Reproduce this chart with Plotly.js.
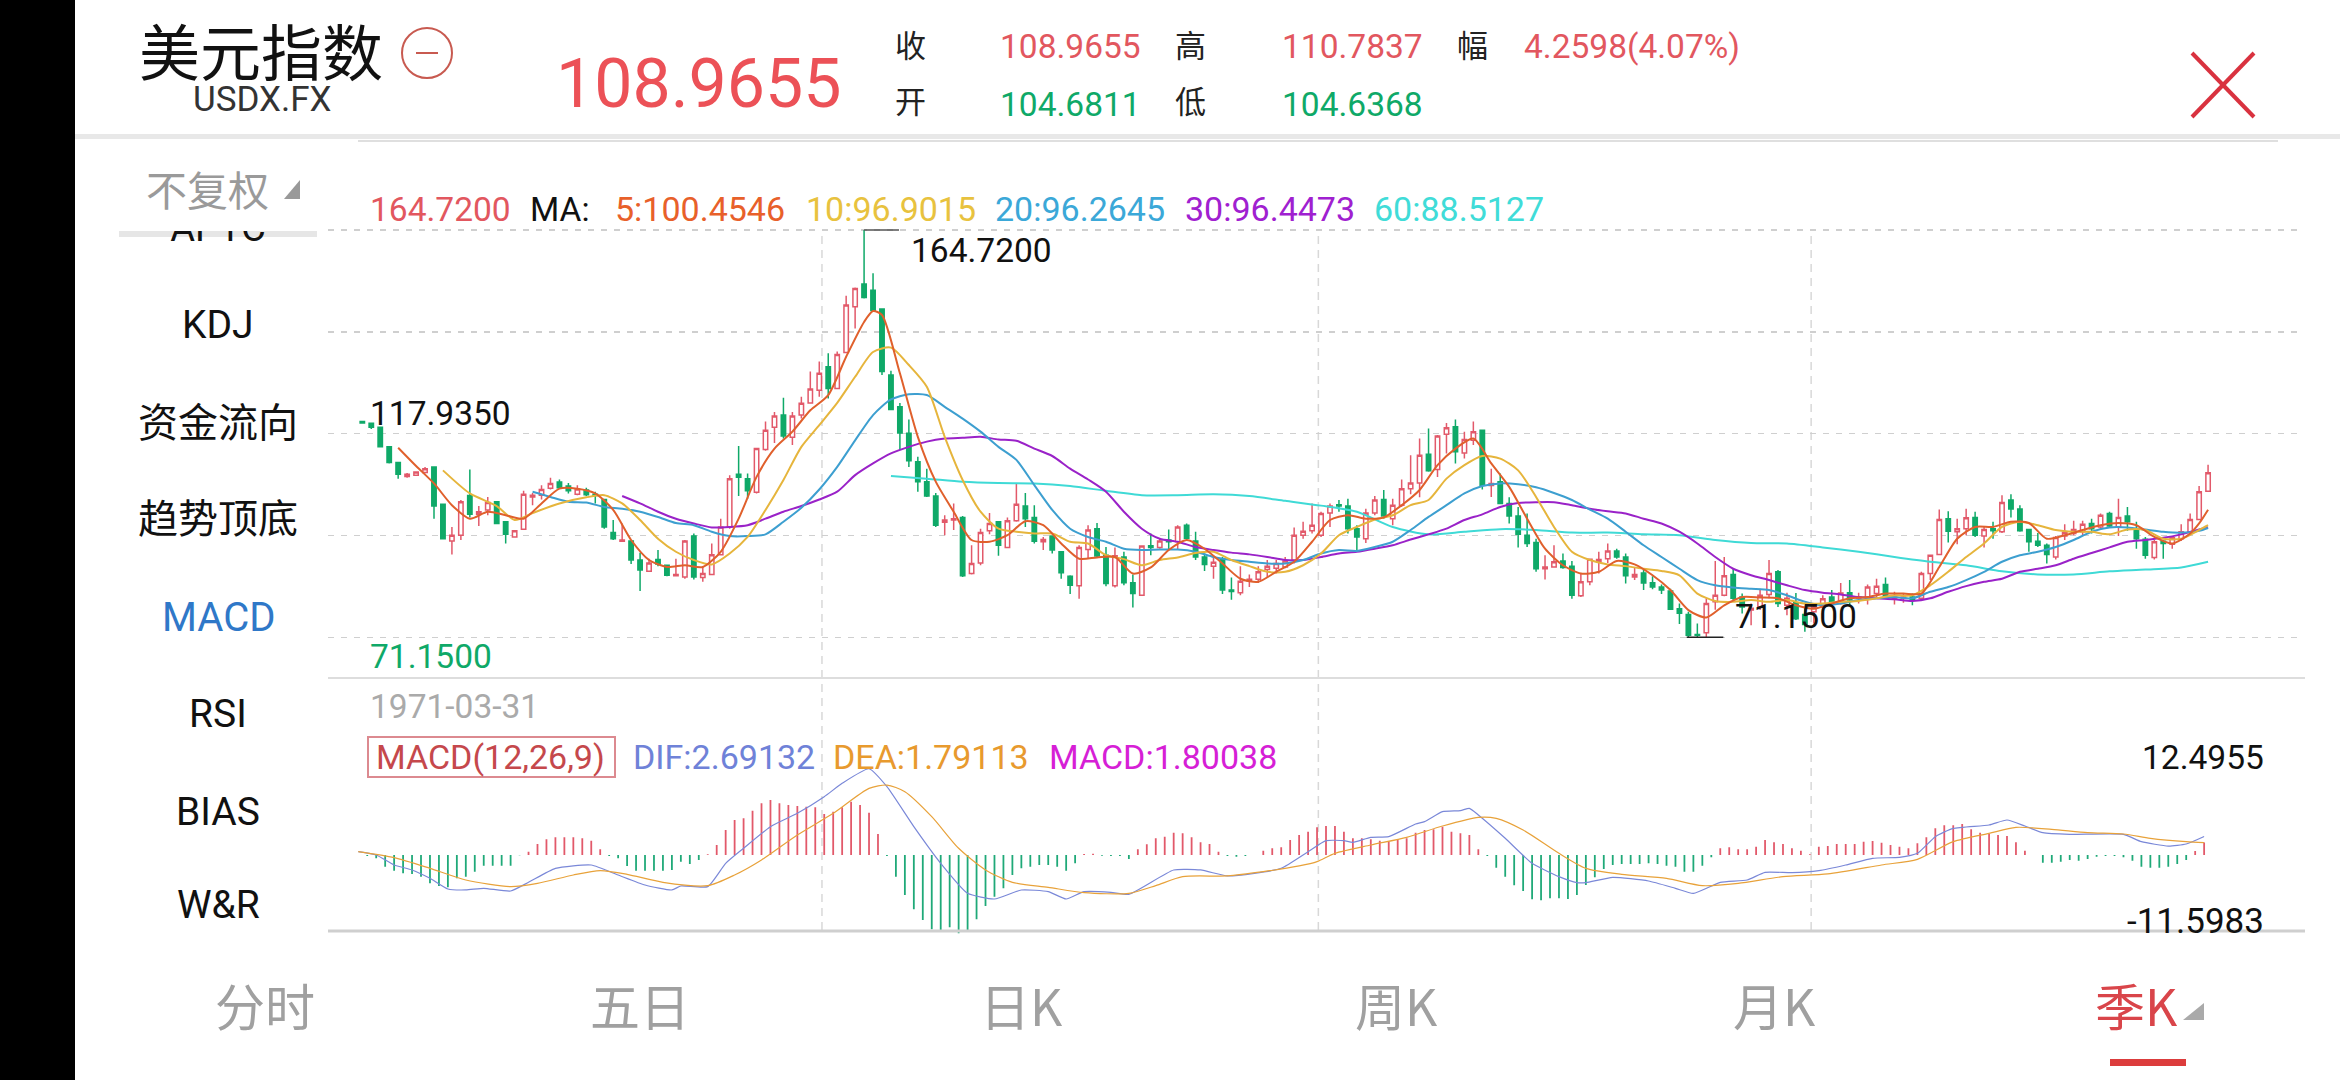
<!DOCTYPE html>
<html><head><meta charset="utf-8">
<script src="https://cdn.plot.ly/plotly-3.0.1.min.js"></script>
<style>html,body{margin:0;padding:0;background:#fff;overflow:hidden}#c{width:2340px;height:1080px}</style>
</head><body><div id="c"></div>
<script>
const opens=[120.7,120.3,119.4,114.9,111.3,108.1,108.4,109.0,110.3,101.7,
93.3,94.6,103.7,99.4,100.4,102.3,97.7,94.2,96.0,103.4,
103.8,105.4,106.8,105.9,104.0,105.0,104.0,102.8,95.2,93.2,
93.3,88.9,86.3,89.0,87.7,85.3,85.0,94.4,84.9,85.6,
90.1,96.5,108.6,107.6,104.5,114.3,119.4,122.2,117.1,122.2,
125.0,127.9,133.3,128.3,136.6,147.1,152.3,150.9,146.6,131.4,
124.1,118.0,111.5,106.9,103.6,97.6,98.1,98.7,85.8,88.2,
95.6,97.7,91.8,97.9,101.3,98.7,93.1,94.4,90.8,85.2,
83.0,91.3,96.1,90.0,83.0,89.6,83.7,80.8,92.2,91.8,
93.5,93.1,96.9,93.3,89.6,87.5,89.2,82.0,81.4,84.1,
84.5,86.7,87.0,87.3,88.9,94.6,95.6,94.6,99.7,101.6,
101.3,96.1,93.8,99.7,102.8,98.4,101.5,105.3,106.6,113.2,
109.7,117.8,119.5,113.5,116.4,118.7,106.0,106.9,101.9,99.0,
94.6,92.9,86.9,87.3,88.7,87.5,80.7,83.9,88.6,89.2,
91.0,89.6,85.0,85.9,83.7,82.7,81.8,77.7,76.4,71.8,
72.2,79.3,80.8,85.6,80.4,77.4,78.1,81.0,86.2,78.5,
79.1,76.4,77.0,78.1,80.4,78.9,81.4,80.1,80.1,81.2,
83.3,80.1,80.1,80.4,80.1,85.8,90.2,98.4,95.4,96.1,
98.7,94.4,96.1,95.4,102.7,100.6,95.9,93.2,92.3,89.6,
94.4,95.0,95.4,97.3,96.5,99.6,96.5,99.0,96.1,93.7,
89.5,93.2,92.5,93.8,95.4,98.2,104.6811];
const highs=[120.7,120.4,119.4,114.9,111.3,108.9,109.1,110.3,110.3,101.7,
96.5,102.7,109.7,101.3,103.4,102.3,97.7,95.6,104.8,104.3,
106.1,107.8,107.4,106.6,106.1,105.5,104.6,103.0,98.1,97.3,
93.5,90.6,89.2,91.2,87.9,89.2,93.5,95.0,87.3,92.7,
98.4,108.4,115.1,108.8,114.7,120.7,122.9,126.2,122.9,126.4,
132.2,134.5,136.4,136.8,149.6,151.5,164.72,154.8,146.7,132.4,
125.0,121.2,112.6,109.9,104.3,99.2,101.9,99.0,92.3,96.1,
99.7,97.8,98.7,106.5,104.3,101.5,94.2,94.6,90.9,85.4,
92.3,96.9,97.4,91.9,91.8,90.8,85.6,92.3,95.0,93.8,
95.9,96.9,97.3,95.4,90.4,90.0,89.6,84.9,87.5,85.6,
87.5,88.9,88.9,89.6,96.4,97.7,101.9,100.0,101.9,102.7,
103.0,96.9,100.7,103.6,105.0,103.0,107.4,113.0,116.8,119.1,
117.6,120.4,121.2,118.4,120.7,118.9,109.9,108.8,103.3,101.1,
99.6,93.8,90.0,92.3,90.4,88.7,85.8,89.2,90.8,92.7,
91.5,90.4,87.3,86.9,85.2,83.3,82.3,78.9,77.0,74.3,
80.1,88.7,89.6,86.9,81.2,78.9,82.3,88.9,86.6,81.4,
81.3,78.1,78.5,80.8,82.0,83.6,84.3,81.4,83.3,84.6,
84.9,81.6,81.2,81.2,86.2,90.2,100.5,100.1,98.4,100.7,
100.0,96.5,97.7,103.8,104.0,101.5,96.1,95.1,92.7,94.4,
97.1,97.9,97.9,98.4,99.6,100.0,103.0,101.1,97.7,94.2,
93.5,93.5,94.2,97.1,99.6,105.9,110.7837];
const lows=[120.4,119.0,114.9,111.1,107.6,107.8,108.4,108.8,98.4,93.8,
90.2,93.5,98.7,96.7,99.2,97.3,92.7,94.2,95.8,101.5,
102.8,105.1,105.3,104.2,103.8,103.6,101.9,96.1,93.5,93.1,
88.0,81.8,86.2,87.5,85.2,85.2,84.6,84.4,83.9,85.4,
90.0,96.1,103.6,103.0,104.2,114.0,115.8,116.8,115.3,121.4,
124.9,126.4,126.0,128.2,136.4,142.1,149.0,145.9,131.4,123.3,
114.2,110.3,104.6,103.4,96.5,94.6,95.8,85.0,85.6,87.7,
94.8,89.9,91.6,97.7,96.5,92.7,91.2,90.4,84.6,81.1,
80.0,89.2,89.5,82.9,82.6,83.1,78.0,80.7,90.0,91.5,
91.2,91.3,93.5,88.9,86.4,84.6,81.1,79.8,80.8,82.7,
83.6,85.0,85.8,87.0,88.1,93.8,95.0,94.2,96.5,100.0,
95.0,90.8,92.8,99.2,98.4,96.9,101.1,104.0,103.3,109.2,
108.0,113.4,111.1,112.2,115.3,105.1,103.4,101.7,97.3,91.8,
91.9,86.2,84.4,87.2,86.9,80.0,80.4,83.1,85.8,88.2,
89.2,83.5,84.3,82.0,82.2,81.1,77.6,74.2,71.2,71.2,
71.15,77.5,80.6,79.7,76.6,73.9,77.4,80.1,78.1,76.2,
75.1,72.4,74.3,77.7,78.1,78.7,78.5,78.9,78.7,80.4,
80.0,78.7,79.1,78.5,79.8,84.3,90.0,92.9,92.5,94.6,
94.2,91.8,93.8,95.1,98.7,95.4,90.8,91.9,88.1,89.0,
93.5,94.6,94.6,95.0,96.1,96.5,94.4,95.6,91.5,89.2,
89.0,89.2,91.5,93.3,95.0,98.1,104.6368];
const closes=[120.4,119.4,114.9,111.3,108.6,108.6,109.1,109.9,101.3,93.8,
94.6,102.3,99.4,100.0,102.1,97.3,94.8,95.6,104.0,103.8,
105.1,106.5,105.5,104.8,105.2,103.9,103.7,96.5,93.8,93.5,
88.9,86.6,88.2,88.0,85.4,85.6,93.3,85.0,85.8,90.1,
96.5,107.6,107.9,104.8,114.5,118.7,122.0,117.4,122.0,124.9,
128.2,131.8,128.3,136.1,147.5,151.3,149.2,146.2,132.2,123.5,
118.1,111.7,106.9,103.6,96.9,98.1,98.4,85.3,88.1,95.2,
97.3,92.3,97.9,101.7,98.4,93.2,93.6,91.2,86.0,83.1,
91.8,95.8,89.8,83.5,89.9,83.7,81.2,92.1,91.8,93.3,
93.1,96.5,93.9,89.6,87.9,88.4,82.0,81.7,84.0,84.5,
86.2,87.5,88.1,88.7,94.6,95.5,96.9,99.6,101.3,101.3,
96.1,94.2,99.7,102.7,99.0,101.5,105.3,106.6,113.0,109.4,
117.4,119.3,113.8,116.6,118.4,106.1,106.5,101.9,99.0,94.8,
92.7,86.9,87.3,88.5,87.2,80.8,83.9,89.1,89.0,91.0,
89.6,85.3,85.6,83.6,82.7,82.0,77.6,76.7,71.6,71.6,
78.9,80.8,85.3,80.1,78.1,77.8,80.8,85.8,78.9,80.1,
75.4,74.1,78.1,80.0,78.9,81.3,79.7,80.4,82.7,82.9,
80.4,80.4,80.4,79.7,85.8,90.0,98.2,95.5,96.1,98.6,
94.6,95.9,95.6,102.1,100.6,95.6,93.1,92.3,90.2,94.1,
95.2,95.9,97.1,96.1,99.2,96.7,98.7,97.7,93.8,90.0,
93.1,92.7,94.0,95.4,98.2,104.6,108.9655];

const ma5X=[4,6,8,10,12,14,16,18,20,22,24,26,28,30,32,34,36,38,40,42,44,46,48,50,52,54,56,57,58,60,62,64,66,68,70,72,74,76,78,80,82,84,86,88,90,92,94,96,98,100,102,104,106,108,110,112,114,116,118,120,122,124,126,128,130,132,134,136,138,140,142,144,146,148,150,152,154,156,158,160,162,164,166,168,170,172,174,176,178,180,182,184,186,188,190,192,194,196,198,200,202,204,205,206];
const ma5=[114.7,110.5,106.5,101.5,98.4,100.0,99.2,98.4,101.9,105.3,105.3,104.2,100.4,93.5,88.9,87.3,87.7,87.3,90.8,98.4,108.0,114.5,118.4,123.3,126.8,135.6,143.6,146.1,145.2,131.8,117.2,106.9,100.0,93.5,93.1,94.6,97.8,96.9,92.7,89.2,89.5,89.6,85.8,87.2,91.2,93.5,91.5,88.1,84.6,83.9,86.2,88.5,93.1,98.1,99.2,98.4,98.7,101.5,105.0,110.7,114.5,116.8,111.1,105.7,98.4,91.5,87.7,85.8,86.2,88.7,87.9,85.4,82.0,77.4,75.7,78.5,80.4,80.3,80.1,78.5,77.7,78.9,80.1,80.4,81.2,81.2,81.2,87.3,93.8,96.5,96.5,97.7,97.4,93.8,94.6,95.8,96.9,97.4,96.9,94.2,92.7,95.0,97.3,100.4546];

const ma10X=[9,12,15,17,19,22,25,27,29,31,33,35,37,39,41,43,45,47,49,51,53,55,57,59,61,63,65,67,69,71,73,75,77,79,81,83,85,87,89,91,93,95,97,99,101,103,105,107,109,111,113,115,117,119,121,123,125,127,129,131,133,135,137,139,141,143,145,147,149,151,153,155,157,159,161,163,165,167,169,171,173,175,177,179,181,183,185,187,189,191,193,195,197,199,201,203,205,206];
const ma10=[109.5,104.2,101.3,98.1,99.7,101.9,103.3,103.8,101.9,98.1,93.8,90.8,88.9,87.9,90.4,94.2,100.4,107.3,114.9,119.9,125.0,131.0,136.7,137.7,133.7,128.7,117.2,107.3,100.0,96.1,95.4,95.0,95.0,93.1,92.7,90.0,89.1,87.7,88.9,89.5,90.5,90.8,88.9,87.5,86.2,86.2,87.7,90.4,94.6,96.5,98.2,99.2,101.5,102.7,107.6,110.7,112.8,112.2,109.5,103.4,96.5,90.8,88.9,87.9,87.5,86.9,86.4,85.4,81.2,79.5,79.3,79.7,79.3,79.7,78.9,78.9,79.3,79.5,80.1,80.8,80.8,83.1,86.2,89.6,92.7,96.5,97.7,96.9,95.8,95.4,95.4,94.8,95.9,95.8,93.8,93.8,95.8,96.9015];

const ma20X=[19,21,23,25,27,29,31,33,35,37,39,41,43,45,47,49,51,53,55,57,59,61,63,65,67,69,71,73,75,77,79,81,83,85,87,89,91,93,95,97,99,101,103,105,107,109,111,113,115,117,119,121,123,125,127,129,131,133,135,137,139,141,143,145,147,149,151,153,155,157,159,161,163,165,167,169,171,173,175,177,179,181,183,185,187,189,191,193,195,197,199,201,203,205,206];
const ma20=[104.6,103.4,102.3,102.1,101.1,100.7,100.0,98.8,97.4,96.9,95.4,94.4,94.4,94.8,97.7,100.9,105.1,110.3,116.4,122.2,125.8,127.0,126.8,124.1,121.4,118.4,114.9,111.9,106.1,100.4,96.1,94.2,93.1,91.5,91.2,91.3,91.3,90.8,89.6,88.9,88.5,88.1,88.1,88.9,90.4,91.2,91.0,91.9,93.1,95.8,98.8,101.5,104.2,105.9,106.5,106.3,105.6,104.3,102.7,100.5,98.4,95.4,92.3,89.6,86.9,84.3,83.1,82.6,82.3,82.0,80.8,79.3,78.5,78.9,79.7,80.1,80.4,80.1,81.6,82.7,84.3,86.2,88.5,90.0,90.8,91.9,93.5,95.4,96.4,96.4,95.9,95.4,95.2,95.6,96.2645];

const ma30X=[29,31,33,35,37,39,41,43,45,47,49,51,53,55,57,59,61,63,65,67,69,71,73,75,77,79,81,83,85,87,89,91,93,95,97,99,101,103,105,107,109,111,113,115,117,119,121,123,125,127,129,131,133,135,137,139,141,143,145,147,149,151,153,155,157,159,161,163,165,167,169,171,173,175,177,179,181,183,185,187,189,191,193,195,197,199,201,203,205,206];
const ma30=[103.6,101.9,100.0,98.4,97.3,96.4,96.5,96.9,98.4,100.0,101.3,102.8,104.6,108.4,111.1,113.4,114.9,116.1,116.8,117.0,117.2,116.6,116.3,114.5,112.8,109.9,107.4,104.6,100.0,96.1,93.8,93.1,91.9,91.2,90.6,90.2,89.6,88.9,88.9,89.6,90.4,90.8,91.5,92.3,93.6,94.8,96.1,98.1,99.4,101.1,102.0,102.2,102.2,101.5,100.7,100.1,99.6,98.4,97.3,95.4,92.7,89.6,86.9,85.4,84.3,83.1,82.0,81.4,81.0,80.4,80.1,79.9,79.5,80.1,81.6,82.9,83.9,84.6,86.2,86.9,87.7,89.2,90.5,91.8,93.1,93.5,94.0,94.8,95.9,96.4473];

const ma60X=[59,63,67,71,75,79,83,87,91,95,99,103,107,111,115,119,123,127,131,135,139,143,147,151,155,159,163,167,171,175,179,183,187,191,195,199,203,206];
const ma60=[108.2,107.6,106.9,106.6,106.5,105.9,104.8,103.8,103.8,104.0,103.6,102.5,101.4,100.0,96.5,94.8,95.4,96.0,95.8,95.2,95.2,94.8,94.6,93.5,92.8,92.7,91.8,90.8,89.6,88.5,87.7,86.3,85.6,85.6,86.3,86.7,87.2,88.5127];

const macdHist=[0,-0.14,-0.48,-1.69,-2.27,-2.66,-2.75,-3.14,-4.11,-4.49,
-4.69,-3.38,-3.14,-2.42,-1.55,-1.55,-1.55,-1.55,-0.05,0.48,
1.59,2.27,2.56,2.56,2.56,2.42,2.08,0.82,-0.14,-0.48,
-1.59,-2.27,-2.27,-2.27,-2.27,-2.17,-0.97,-1.30,-0.72,0.10,
1.45,3.62,5.07,5.31,6.43,7.49,7.97,7.49,7.25,7.10,
7.00,6.91,5.94,6.28,6.91,7.73,7.25,6.14,3.04,-0.14,
-3.14,-5.80,-7.87,-9.42,-10.77,-10.97,-10.48,-11.35,-10.97,-9.32,
-7.39,-6.04,-4.83,-2.90,-1.93,-1.69,-1.45,-1.45,-1.69,-2.27,
-1.21,0.14,0.19,-0.10,-0.14,-0.14,-0.58,0.82,1.55,2.42,
2.66,3.24,3.14,2.56,1.84,1.59,0.48,-0.14,-0.24,-0.14,
0,0.63,0.97,1.11,2.17,2.90,3.38,4.01,4.20,4.20,
3.38,2.42,2.42,2.27,2.08,1.93,2.27,2.42,3.24,3.62,
3.72,4.11,3.38,3.14,2.90,0.82,-0.14,-1.84,-3.14,-4.40,
-5.22,-6.43,-6.57,-6.28,-6.28,-6.38,-5.80,-4.35,-3.24,-2.03,
-1.45,-1.30,-1.30,-1.30,-1.21,-1.30,-1.55,-1.69,-2.42,-2.42,
-1.55,-0.34,0.97,1.11,0.82,0.82,1.21,2.17,1.84,1.59,
0.97,0.63,0.10,1.21,1.30,1.59,1.59,1.59,1.93,2.03,
1.79,1.45,1.21,0.97,1.69,2.56,3.86,4.30,4.30,4.49,
3.72,3.24,3.04,2.90,2.75,1.84,0.63,0,-1.11,-1.11,
-0.97,-0.72,-0.82,-0.58,-0.24,-0.14,-0.14,-0.34,-0.82,-1.69,
-1.84,-1.84,-1.69,-1.30,-0.72,0.58,1.80038];

const difX=[0,2,4,6,8,10,12,14,17,19,22,26,29,32,35,36,39,41,43,46,49,52,54,57,59,62,65,68,71,74,77,79,81,84,86,91,94,97,100,103,106,108,110,111,113,115,118,119,121,123,124,125,128,131,134,136,137,140,144,147,149,152,155,157,160,163,166,169,172,174,176,178,182,184,186,188,191,197,199,202,204,206];
const dif=[0.48,0,-1.45,-2.17,-3.38,-4.93,-5.07,-4.83,-5.22,-3.96,-1.93,-1.45,-2.90,-4.35,-5.07,-4.49,-4.59,-1.21,0.97,4.11,6.04,8.45,10.39,12.50,9.90,4.11,-1.21,-5.56,-6.38,-5.07,-5.31,-6.38,-5.31,-5.41,-5.70,-2.17,-2.17,-3.04,-2.66,-1.93,0.48,2.08,2.08,1.84,2.56,2.66,4.49,4.83,6.28,6.43,6.76,5.80,2.42,-1.21,-3.14,-4.01,-4.01,-3.24,-3.77,-4.83,-5.56,-3.96,-3.62,-2.51,-2.56,-2.27,-1.45,-0.48,-0.34,0.24,2.66,3.86,4.35,5.07,4.20,3.24,3.00,3.00,1.93,1.30,1.59,2.69132];
const deaX=[0,4,8,12,17,20,24,27,30,34,39,42,45,49,53,57,59,61,64,67,70,73,77,81,86,89,92,97,101,105,107,109,113,117,121,125,127,130,134,137,141,146,150,154,159,164,170,174,178,182,185,189,193,197,200,204,206];
const dea=[0.48,-0.39,-1.93,-3.62,-4.59,-4.11,-2.90,-2.27,-2.80,-3.96,-4.44,-2.90,-0.72,2.90,6.04,9.66,10.14,9.18,5.56,0.97,-2.17,-3.96,-4.69,-5.46,-5.56,-4.44,-3.14,-3.04,-2.42,-1.59,-0.97,0.24,1.45,2.56,4.20,5.46,5.31,3.62,0.24,-1.93,-2.80,-3.38,-4.44,-4.11,-3.14,-2.75,-1.45,-0.63,1.93,3.14,4.01,3.72,3.24,3.04,2.42,1.93,1.79113];

const priceTicks=[71.15,94.5425,117.935,141.3275,164.72];
const yearMarks=[51.3,106.7,161.7];

const RED='#e2596a', GREEN='#0fa968', CJK='"Noto Sans CJK SC"', NUM='Roboto, "Noto Sans CJK SC"';
const W=2340,H=1080, px=x=>x/W, py=y=>1-y/H;
const idx=closes.map((_,i)=>i);

function note(text,x,y,size,color,anchor,font,extra){
  return Object.assign({text,x:px(x),y:py(y),xref:'paper',yref:'paper',showarrow:false,xanchor:anchor||'left',yanchor:'middle',
    borderpad:0,font:{family:font||NUM,size,color}},extra||{});
}
function rect(x0,y0,x1,y1,fill,layer){return {type:'rect',xref:'paper',yref:'paper',x0:px(x0),x1:px(x1),y0:py(y0),y1:py(y1),fillcolor:fill,line:{width:0},layer:layer||'above'};}
function seg(x0,y0,x1,y1,color,width,dash){return {type:'line',xref:'paper',yref:'paper',x0:px(x0),x1:px(x1),y0:py(y0),y1:py(y1),line:{color,width,dash:dash||'solid'},layer:'above'};}
function tri(path,fill){return {type:'path',xref:'paper',yref:'paper',path,fillcolor:fill,line:{width:0}};}
const P=(x,y)=>px(x)+','+py(y);

const traces=[
 {type:'candlestick',x:idx,open:opens,high:highs,low:lows,close:closes,xaxis:'x',yaxis:'y',whiskerwidth:0,
  increasing:{line:{color:RED,width:1.5},fillcolor:'#ffffff'},
  decreasing:{line:{color:GREEN,width:1.5},fillcolor:GREEN},hoverinfo:'skip'},
 {type:'scatter',mode:'lines',x:ma60X,y:ma60,line:{color:'#3fdad6',width:2,shape:'spline',smoothing:0.7},xaxis:'x',yaxis:'y'},
 {type:'scatter',mode:'lines',x:ma30X,y:ma30,line:{color:'#9a22c8',width:2,shape:'spline',smoothing:0.7},xaxis:'x',yaxis:'y'},
 {type:'scatter',mode:'lines',x:ma20X,y:ma20,line:{color:'#3d9fd0',width:2,shape:'spline',smoothing:0.7},xaxis:'x',yaxis:'y'},
 {type:'scatter',mode:'lines',x:ma10X,y:ma10,line:{color:'#e6b53c',width:2,shape:'spline',smoothing:0.7},xaxis:'x',yaxis:'y'},
 {type:'scatter',mode:'lines',x:ma5X,y:ma5,line:{color:'#e0602c',width:2,shape:'spline',smoothing:0.7},xaxis:'x',yaxis:'y'},
 {type:'bar',x:idx,y:macdHist,width:0.2,marker:{color:macdHist.map(v=>v>=0?'#e2596a':'#1fa978'),line:{width:0}},xaxis:'x2',yaxis:'y2'},
 {type:'scatter',mode:'lines',x:difX,y:dif,line:{color:'#7a88d8',width:1.2,shape:'spline',smoothing:0.5},xaxis:'x2',yaxis:'y2'},
 {type:'scatter',mode:'lines',x:deaX,y:dea,line:{color:'#e8a23a',width:1.2,shape:'spline',smoothing:0.7},xaxis:'x2',yaxis:'y2'},
 {type:'scatter',mode:'text',x:[0],y:[0.51],text:['APTC'],textposition:'top center',cliponaxis:true,textfont:{family:NUM,size:38,color:'#111'},xaxis:'x3',yaxis:'y3'}
];

const hidden={showticklabels:false,ticks:'',zeroline:false,showline:false,showgrid:false,fixedrange:true};
const layout={
 width:W,height:H,margin:{l:0,r:0,t:0,b:0},paper_bgcolor:'#fff',plot_bgcolor:'rgba(0,0,0,0)',showlegend:false,barmode:'overlay',
 xaxis:Object.assign({},hidden,{domain:[px(328),px(2300)],range:[-3.83,216.26],rangeslider:{visible:false},anchor:'y'}),
 yaxis:Object.assign({},hidden,{domain:[py(639.3),py(228)],range:[70.69,165.18],showgrid:true,tickvals:priceTicks,gridcolor:'#cfcfcf',gridwidth:1.5,griddash:'6px,7px',anchor:'x'}),
 xaxis2:Object.assign({},hidden,{domain:[px(328),px(2300)],range:[-3.38,216.7],anchor:'y2'}),
 yaxis2:Object.assign({},hidden,{domain:[py(935),py(768.8)],range:[-11.5983,12.4955],anchor:'x2'}),
 xaxis3:Object.assign({},hidden,{domain:[px(119),px(317)],range:[-1,1],anchor:'y3'}),
 yaxis3:Object.assign({},hidden,{domain:[py(270),py(231)],range:[0,1],anchor:'x3'}),
 shapes:[
  rect(0,0,75,1080,'#000000'),
  rect(75,134,2340,139,'#e8e8e8'),
  seg(358,141,2278,141,'#d4d4d4',1.5),
  rect(119,231,317,237,'#e6e6e6','below'),
  {type:'circle',xref:'paper',yref:'paper',x0:px(402),x1:px(452),y0:py(78),y1:py(28),line:{color:'#c85a50',width:2},fillcolor:'rgba(0,0,0,0)'},
  seg(416,53,438,53,'#c85a50',2),
  seg(2192,53,2254,117,'#d9323f',4),
  seg(2254,53,2192,117,'#d9323f',4),
  tri('M '+P(300,180)+' L '+P(300,199)+' L '+P(284,199)+' Z','#999999'),
  tri('M '+P(2204,1003)+' L '+P(2204,1020)+' L '+P(2183,1020)+' Z','#aaaaaa'),
  seg(328,678,2305,678,'#dddddd',2),
  seg(328,931,2305,931,'#cfcfcf',3),
  rect(2110,1059,2186,1066,'#dc3c3c'),
  {type:'rect',xref:'paper',yref:'paper',x0:px(368),x1:px(615),y0:py(777),y1:py(737),line:{color:'#dc8a90',width:2},fillcolor:'rgba(0,0,0,0)'},
  {type:'line',xref:'x',yref:'y',x0:56,x1:59.9,y0:164.72,y1:164.72,line:{color:'#555555',width:1.5}},
  {type:'line',xref:'x',yref:'y',x0:147.8,x1:151.9,y0:71.15,y1:71.15,line:{color:'#222222',width:1.5}}
 ].concat(yearMarks.map(v=>({type:'line',xref:'x',yref:'paper',x0:v,x1:v,y0:py(930),y1:py(230),line:{color:'#d8d8d8',width:1.5,dash:'8px,6px'},layer:'below'}))),
 annotations:[
  note('美元指数',261,50,61,'#111','center',CJK),
  note('USDX.FX',262,100,35,'#333','center',NUM),
  note('108.9655',555,84,68,'#ec5157','left',NUM),
  note('收',910,43,31,'#222','center',CJK),
  note('开',910,100,31,'#222','center',CJK),
  note('108.9655',999,46,33.5,'#e2575f'),
  note('104.6811',999,104,33.5,GREEN),
  note('高',1190,43,31,'#222','center',CJK),
  note('低',1190,100,31,'#222','center',CJK),
  note('110.7837',1281,46,33.5,'#e2575f'),
  note('104.6368',1281,104,33.5,GREEN),
  note('幅',1472,43,31,'#222','center',CJK),
  note('4.2598(4.07%)',1523,46,33.5,'#e2575f'),
  note('不复权',207,188,41,'#9a9a9a','center',CJK),
  note('164.7200',369,209,33.5,'#e2575f'),
  note('MA:',529,209,33.5,'#111'),
  note('5:100.4546',614,209,34,'#e8602a'),
  note('10:96.9015',805,209,34,'#e8c23e'),
  note('20:96.2645',994,209,34,'#3ba8d8'),
  note('30:96.4473',1184,209,34,'#a020d0'),
  note('60:88.5127',1373,209,34,'#40dcd8'),
  note('KDJ',218,325,39,'#111','center',NUM),
  note('资金流向',218,420,40,'#111','center',CJK),
  note('趋势顶底',218,516,40,'#111','center',CJK),
  note('MACD',218,617,40,'#2f78c8','center',NUM),
  note('RSI',218,714,39,'#111','center',NUM),
  note('BIAS',218,812,39,'#111','center',NUM),
  note('W&R',218,905,39,'#111','center',NUM),
  note('117.9350',369,413,33.5,'#111'),
  note('71.1500',369,656,33.5,GREEN),
  note('164.7200',910,250,33.5,'#111'),
  note('71.1500',1734,616,33.5,'#111'),
  note('1971-03-31',369,706,33.5,'#aaaaaa'),
  note('MACD(12,26,9)',375,757,34,'#c5484c'),
  note('DIF:2.69132',632,757,34,'#6f82d8'),
  note('DEA:1.79113',832,757,34,'#e89a2e'),
  note('MACD:1.80038',1048,757,34,'#d61fd6'),
  note('12.4955',2265,757,33.5,'#111','right'),
  note('-11.5983',2265,921,35,'#111','right'),
  note('分时',265,1004,50,'#a0a0a0','center',CJK),
  note('五日',640,1004,50,'#a0a0a0','center',CJK),
  note('日K',1021,1004,50,'#a0a0a0','center',CJK),
  note('周K',1396,1004,50,'#a0a0a0','center',CJK),
  note('月K',1774,1004,50,'#a0a0a0','center',CJK),
  note('季K',2136,1004,50,'#d9454a','center',CJK)
 ]
};
Plotly.newPlot('c',traces,layout,{displayModeBar:false,staticPlot:true});
</script></body></html>
